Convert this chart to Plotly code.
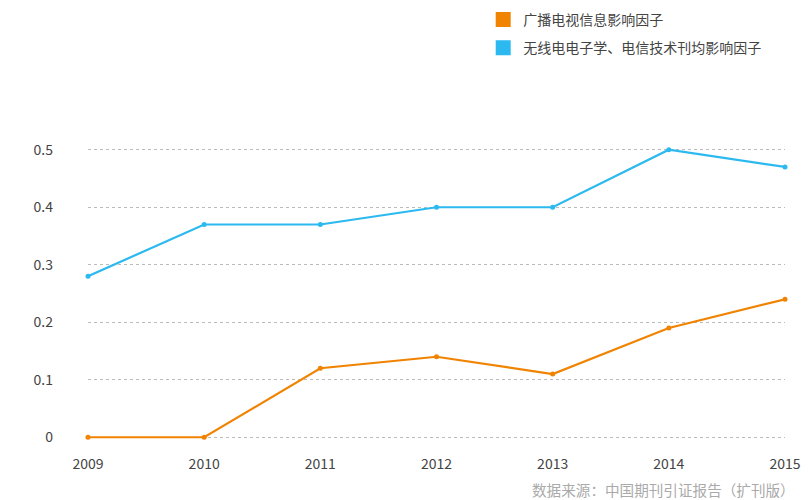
import plotly.graph_objects as go

years = ["2009", "2010", "2011", "2012", "2013", "2014", "2015"]
broadcast = [0, 0, 0.12, 0.14, 0.11, 0.19, 0.24]
wireless = [0.28, 0.37, 0.37, 0.40, 0.40, 0.50, 0.47]
names = ["广播电视信息影响因子", "无线电电子学、电信技术刊均影响因子"]
colors = ["#F08300", "#2BB9F0"]
source = "数据来源：中国期刊引证报告（扩刊版）"

FONT = "Noto Sans CJK SC, Open Sans, sans-serif"

fig = go.Figure()
for i, (vals, name, col) in enumerate([(broadcast, names[0], colors[0]), (wireless, names[1], colors[1])]):
    fig.add_trace(go.Scatter(x=years, y=vals, mode="lines+markers", name=name,
                             line=dict(color=col, width=2.2), marker=dict(color=col, size=5),
                             showlegend=False, cliponaxis=False, hoverinfo="x+y"))
    fig.add_trace(go.Scatter(x=[None], y=[None], mode="markers", name=name, legendgroup="g%d" % i,
                             marker=dict(color=col, size=15, symbol="square"), showlegend=True))

fig.update_layout(
    width=810, height=500,
    margin=dict(l=80, r=33, t=140, b=69, autoexpand=False),
    paper_bgcolor="white", plot_bgcolor="white",
    font=dict(family=FONT, size=13, color="#444"),
    xaxis=dict(type="category", range=[0, 6], showgrid=False, zeroline=False, showline=False,
               ticks="", tickfont=dict(size=14, color="#444"), ticklabelstandoff=15,
               automargin=False),
    yaxis=dict(range=[-0.003, 0.503], tickvals=[0, 0.1, 0.2, 0.3, 0.4, 0.5],
               ticktext=["0", "0.1", "0.2", "0.3", "0.4", "0.5"],
               showgrid=True, gridcolor="#bbbbbb", griddash="dot",
               gridwidth=1, zeroline=False, showline=False, ticks="",
               tickfont=dict(size=14, color="#444"), ticklabelstandoff=34, automargin=False),
    legend=dict(x=0.567, y=1.495, xanchor="left", yanchor="top", orientation="v",
                traceorder="grouped", tracegroupgap=7,
                font=dict(size=14, color="#444"), itemwidth=30),
    annotations=[dict(text=source, xref="paper", yref="paper", x=1.0172, y=-0.172,
                      xanchor="right", yanchor="middle", showarrow=False,
                      font=dict(size=14.6, color="#aaaaaa"))],
)

fig.write_html("out.html")
